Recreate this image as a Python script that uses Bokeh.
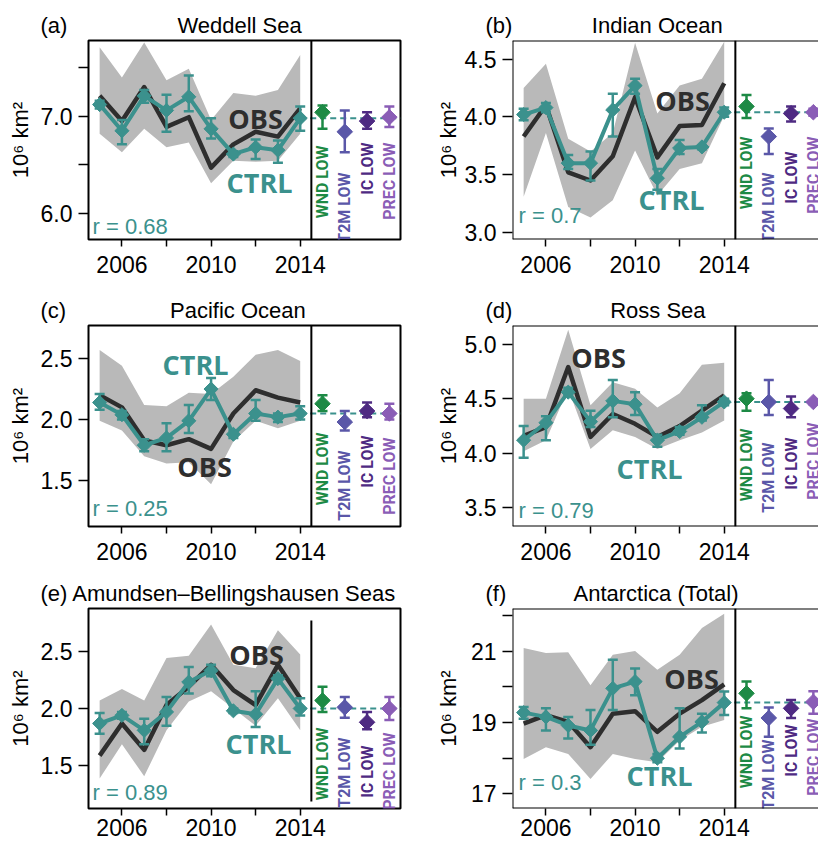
import numpy as np
from bokeh.plotting import figure
from bokeh.layouts import column, row
from bokeh.models import (Range1d, FixedTicker, Span, Label, ColumnDataSource, Title,
                          PrintfTickFormatter)
from bokeh.embed import file_html
from bokeh.resources import INLINE
from bokeh.core.properties import value

# ---------------- data ----------------
years = [2005, 2006, 2007, 2008, 2009, 2010, 2011, 2012, 2013, 2014]
year_ticks = [2006, 2008, 2010, 2012, 2014]
year_labels = ["2006", "", "2010", "", "2014"]
exp_names = ["WND LOW", "T2M LOW", "IC LOW", "PREC LOW"]
exp_x = [2015, 2016, 2017, 2018]

# (a) Weddell Sea
wed_obs = [7.21, 6.95, 7.30, 6.89, 6.99, 6.47, 6.71, 6.84, 6.79, 7.08]
wed_band_lo = [6.82, 6.63, 6.87, 6.68, 6.73, 6.31, 6.54, 6.53, 6.54, 6.82]
wed_band_hi = [7.71, 7.40, 7.76, 7.37, 7.49, 6.96, 7.24, 7.21, 7.27, 7.63]
wed_ctrl = [7.12, 6.85, 7.21, 7.06, 7.20, 6.87, 6.61, 6.68, 6.65, 6.98]
wed_ctrl_lo = [7.08, 6.71, 7.14, 6.84, 7.05, 6.77, 6.58, 6.56, 6.52, 6.85]
wed_ctrl_hi = [7.16, 6.96, 7.27, 7.22, 7.42, 6.98, 6.64, 6.76, 6.75, 7.10]
wed_exp = [7.04, 6.84, 6.95, 6.99]
wed_exp_lo = [6.87, 6.63, 6.87, 6.89]
wed_exp_hi = [7.11, 7.06, 7.04, 7.10]

# (b) Indian Ocean
ind_obs = [3.83, 4.10, 3.52, 3.45, 3.66, 4.17, 3.65, 3.92, 3.93, 4.29]
ind_band_lo = [3.31, 3.86, 3.22, 3.13, 3.28, 3.71, 3.32, 3.55, 3.60, 4.01]
ind_band_hi = [4.25, 4.46, 3.81, 3.70, 3.86, 4.64, 4.03, 4.27, 4.33, 4.65]
ind_ctrl = [4.02, 4.08, 3.60, 3.60, 4.06, 4.27, 3.47, 3.73, 3.74, 4.04]
ind_ctrl_lo = [3.97, 4.04, 3.55, 3.45, 3.83, 4.20, 3.37, 3.68, 3.72, 4.00]
ind_ctrl_hi = [4.07, 4.12, 3.67, 3.70, 4.20, 4.33, 3.55, 3.80, 3.75, 4.08]
ind_exp = [4.09, 3.83, 4.03, 4.04]
ind_exp_lo = [3.99, 3.68, 3.96, 4.01]
ind_exp_hi = [4.19, 3.90, 4.09, 4.07]

# (c) Pacific Ocean
pac_obs = [2.20, 2.10, 1.83, 1.79, 1.84, 1.76, 2.05, 2.24, 2.18, 2.14]
pac_band_lo = [1.99, 1.91, 1.70, 1.64, 1.65, 1.47, 1.82, 1.99, 1.93, 1.99]
pac_band_hi = [2.57, 2.44, 2.12, 2.11, 2.22, 2.21, 2.35, 2.53, 2.57, 2.48]
pac_ctrl = [2.14, 2.04, 1.79, 1.85, 1.99, 2.25, 1.88, 2.05, 2.02, 2.05]
pac_ctrl_lo = [2.08, 2.00, 1.74, 1.74, 1.89, 2.16, 1.85, 1.99, 1.98, 2.00]
pac_ctrl_hi = [2.21, 2.07, 1.84, 1.97, 2.12, 2.34, 1.91, 2.16, 2.05, 2.11]
pac_exp = [2.13, 1.98, 2.07, 2.05]
pac_exp_lo = [2.07, 1.91, 2.02, 2.00]
pac_exp_hi = [2.20, 2.07, 2.14, 2.13]

# (d) Ross Sea
ros_obs = [4.16, 4.24, 4.79, 4.15, 4.36, 4.27, 4.15, 4.25, 4.39, 4.53]
ros_band_lo = [4.02, 4.12, 4.59, 4.04, 4.21, 4.15, 4.04, 4.12, 4.19, 4.30]
ros_band_hi = [4.50, 4.50, 5.13, 4.44, 4.65, 4.59, 4.42, 4.55, 4.81, 4.83]
ros_ctrl = [4.12, 4.28, 4.56, 4.29, 4.48, 4.45, 4.12, 4.20, 4.33, 4.47]
ros_ctrl_lo = [3.96, 4.12, 4.53, 4.24, 4.33, 4.35, 4.06, 4.17, 4.30, 4.44]
ros_ctrl_hi = [4.25, 4.34, 4.60, 4.39, 4.67, 4.56, 4.17, 4.24, 4.44, 4.50]
ros_exp = [4.50, 4.47, 4.41, 4.47]
ros_exp_lo = [4.39, 4.35, 4.33, 4.45]
ros_exp_hi = [4.55, 4.67, 4.52, 4.48]

# (e) Amundsen-Bellingshausen Seas
abs_obs = [1.59, 1.87, 1.64, 2.03, 2.19, 2.38, 2.16, 2.03, 2.38, 2.09]
abs_band_lo = [1.39, 1.69, 1.41, 1.81, 2.06, 2.15, 2.00, 1.85, 2.09, 1.81]
abs_band_hi = [2.07, 2.17, 2.07, 2.44, 2.46, 2.73, 2.38, 2.35, 2.68, 2.47]
abs_ctrl = [1.87, 1.94, 1.81, 1.97, 2.23, 2.33, 1.98, 1.95, 2.26, 2.00]
abs_ctrl_lo = [1.78, 1.91, 1.69, 1.85, 2.13, 2.28, 1.96, 1.84, 2.22, 1.94]
abs_ctrl_hi = [1.96, 1.97, 1.91, 2.10, 2.36, 2.38, 2.00, 2.15, 2.29, 2.09]
abs_exp = [2.07, 2.01, 1.88, 2.00]
abs_exp_lo = [1.97, 1.92, 1.82, 1.90]
abs_exp_hi = [2.19, 2.10, 1.97, 2.10]

# (f) Antarctica (Total)
ant_obs = [18.97, 19.21, 19.02, 18.31, 19.25, 19.32, 18.74, 19.25, 19.63, 20.07]
ant_band_lo = [17.98, 18.31, 18.12, 17.42, 18.12, 17.98, 17.89, 18.50, 18.88, 19.07]
ant_band_hi = [21.09, 20.95, 20.97, 20.05, 20.90, 21.01, 20.48, 20.90, 21.65, 22.05]
ant_ctrl = [19.28, 19.16, 18.92, 18.78, 19.96, 20.15, 18.00, 18.60, 19.02, 19.56]
ant_ctrl_lo = [19.11, 18.78, 18.55, 18.38, 19.35, 19.77, 17.89, 18.27, 18.72, 19.21]
ant_ctrl_hi = [19.44, 19.40, 19.16, 19.35, 20.76, 20.52, 18.12, 19.40, 19.25, 19.87]
ant_exp = [19.82, 19.13, 19.40, 19.58]
ant_exp_lo = [19.40, 18.60, 19.13, 19.25]
ant_exp_hi = [20.15, 19.42, 19.63, 19.88]

corr = ["0.68", "0.7", "0.25", "0.79", "0.89", "0.3"]

# ---------------- style ----------------
TEAL = "#3b918d"
OBS_C = "#2e2e2e"
BAND = "#b9b9b9"
EXP_COLORS = ["#1d8a45", "#5a57a8", "#4e2a82", "#8a5db6"]
FONT = "Liberation Sans"
PPX = 312.0 / 14.0  # pixels per year
NB = "\u00a0"

panels = [
    dict(title="(a)" + NB * 18 + "Weddell Sea", obs=wed_obs, blo=wed_band_lo, bhi=wed_band_hi,
         ctrl=wed_ctrl, clo=wed_ctrl_lo, chi=wed_ctrl_hi, exp=wed_exp, elo=wed_exp_lo, ehi=wed_exp_hi,
         yr=(5.73, 7.78), yt=[6.0, 6.5, 7.0, 7.5], yo={6.5: "", 7.5: ""}, fmt="%.1f",
         obs_pos=(167, 78), ctrl_pos=(171, 142), r_pos=(4, 193), left=True,
         row=0, als=5, ttop=[105, 132, 102, 102]),
    dict(title="(b)" + NB * 13 + "Indian Ocean", obs=ind_obs, blo=ind_band_lo, bhi=ind_band_hi,
         ctrl=ind_ctrl, clo=ind_ctrl_lo, chi=ind_ctrl_hi, exp=ind_exp, elo=ind_exp_lo, ehi=ind_exp_hi,
         yr=(2.94, 4.66), yt=[3.0, 3.5, 4.0, 4.5], yo={}, fmt="%.1f",
         obs_pos=(170, 60), ctrl_pos=(159, 159), r_pos=(6, 182), left=False,
         row=0, als=1, ttop=[96, 132, 111, 96]),
    dict(title="(c)" + NB * 17 + "Pacific Ocean", obs=pac_obs, blo=pac_band_lo, bhi=pac_band_hi,
         ctrl=pac_ctrl, clo=pac_ctrl_lo, chi=pac_ctrl_hi, exp=pac_exp, elo=pac_exp_lo, ehi=pac_exp_hi,
         yr=(1.125, 2.77), yt=[1.5, 2.0, 2.5], yo={}, fmt="%.1f",
         obs_pos=(116, 141), ctrl_pos=(107, 39), r_pos=(4, 190), left=True,
         row=1, als=5, ttop=[107, 125, 110, 112]),
    dict(title="(d)" + NB * 16 + "Ross Sea", obs=ros_obs, blo=ros_band_lo, bhi=ros_band_hi,
         ctrl=ros_ctrl, clo=ros_ctrl_lo, chi=ros_ctrl_hi, exp=ros_exp, elo=ros_exp_lo, ehi=ros_exp_hi,
         yr=(3.33, 5.17), yt=[3.5, 4.0, 4.5, 5.0], yo={}, fmt="%.1f",
         obs_pos=(86, 32), ctrl_pos=(137, 143), r_pos=(6, 192), left=False,
         row=1, als=1, ttop=[103, 117, 112, 97]),
    dict(title="(e) Amundsen\u2013Bellingshausen Seas", obs=abs_obs, blo=abs_band_lo, bhi=abs_band_hi,
         ctrl=abs_ctrl, clo=abs_ctrl_lo, chi=abs_ctrl_hi, exp=abs_exp, elo=abs_exp_lo, ehi=abs_exp_hi,
         yr=(1.13, 2.87), yt=[1.5, 2.0, 2.5], yo={}, fmt="%.1f",
         obs_pos=(168, 46), ctrl_pos=(170, 135), r_pos=(4, 191), left=True,
         row=2, als=5, short_divider=True, ttop=[119, 129, 137, 124]),
    dict(title="(f)" + NB * 11 + "Antarctica (Total)", obs=ant_obs, blo=ant_band_lo, bhi=ant_band_hi,
         ctrl=ant_ctrl, clo=ant_ctrl_lo, chi=ant_ctrl_hi, exp=ant_exp, elo=ant_exp_lo, ehi=ant_exp_hi,
         yr=(16.59, 22.2), yt=[17, 18, 19, 20, 21, 22], yo={18: "", 20: "", 22: ""}, fmt="%d",
         obs_pos=(179, 70), ctrl_pos=(147, 167), r_pos=(6, 181), left=False,
         row=2, als=7, ttop=[107, 131, 116, 110]),
]

# row geometry: (height, border_top, border_bottom, x-label standoff)
ROWS = [(285, 40, 46, 9), (285, 40, 44, 9), (273, 38, 35, 3)]


def make_panel(d, r_text):
    left = d["left"]
    H, bt, bb, xstand = ROWS[d["row"]]
    fw = 312 if left else 306
    W = 424 if left else 394
    mbl = 88
    mbr = W - mbl - fw
    fh = H - bt - bb
    x0 = 2004.5
    x1 = x0 + fw / PPX
    y0, y1 = d["yr"]
    dx = (x1 - x0) / fw
    dy = (y1 - y0) / fh

    p = figure(width=W, height=H, x_range=Range1d(x0, x1), y_range=Range1d(y0, y1),
               output_backend="svg", toolbar_location=None,
               min_border_left=mbl, min_border_right=mbr,
               min_border_top=bt, min_border_bottom=bb)
    p.xgrid.visible = False
    p.ygrid.visible = False
    p.background_fill_color = "white"
    p.border_fill_color = "white"

    p.title = Title(text=d["title"], align="left", offset=-(48 if left else 27),
                    text_font=FONT, text_font_size="22px", text_font_style="normal",
                    text_color="black", standoff=6)

    if left:
        p.outline_line_color = "black"
        p.outline_line_width = 2
    else:
        p.outline_line_color = None
        p.add_layout(Span(location=x0, dimension="height", line_color="black", line_width=2))
        p.add_layout(Span(location=y0, dimension="width", line_color="black", line_width=2))
        p.add_layout(Span(location=y1, dimension="width", line_color="black", line_width=2))

    # axes
    for ax in (p.xaxis[0], p.yaxis[0]):
        ax.axis_line_color = None
        ax.major_tick_line_color = "black"
        ax.major_tick_line_width = 1.5
        ax.major_tick_in = 0
        ax.minor_tick_line_color = None
        ax.major_label_text_font = FONT
        ax.major_label_text_font_size = "23px"
        ax.major_label_text_color = "black"
    p.xaxis.ticker = FixedTicker(ticks=year_ticks)
    p.xaxis.major_label_overrides = {t: l for t, l in zip(year_ticks, year_labels)}
    p.xaxis.major_tick_out = 7
    p.xaxis.major_label_standoff = xstand
    p.yaxis.ticker = FixedTicker(ticks=d["yt"])
    p.yaxis.formatter = PrintfTickFormatter(format=d["fmt"])
    if d["yo"]:
        p.yaxis.major_label_overrides = d["yo"]
    p.yaxis.major_tick_out = 10
    p.yaxis.major_label_standoff = 6
    p.yaxis.axis_label = "10\u2076 km\u00b2"
    p.yaxis.axis_label_text_font = FONT
    p.yaxis.axis_label_text_font_size = "22px"
    p.yaxis.axis_label_text_font_style = "normal"
    p.yaxis.axis_label_text_color = "black"
    p.yaxis.axis_label_standoff = d["als"]

    # band, obs, ctrl
    p.varea(x=years, y1=d["blo"], y2=d["bhi"], fill_color=BAND, fill_alpha=1.0)
    p.line(years, d["obs"], line_color=OBS_C, line_width=4.5, line_join="round")
    p.line([years[-1], x1], [d["ctrl"][-1], d["ctrl"][-1]], line_color=TEAL,
           line_width=2, line_dash="6 4")
    p.line(years, d["ctrl"], line_color=TEAL, line_width=4, line_join="round")
    p.segment(x0=years, y0=d["clo"], x1=years, y1=d["chi"], line_color=TEAL, line_width=2.5)
    p.scatter(years, d["chi"], marker="dash", size=10, line_color=TEAL, line_width=2.5)
    p.scatter(years, d["clo"], marker="dash", size=10, line_color=TEAL, line_width=2.5)
    p.scatter(years, d["ctrl"], marker="square", angle=np.pi / 4, size=10,
              fill_color=TEAL, line_color=TEAL)

    # experiments
    src = ColumnDataSource(dict(x=exp_x, y=d["exp"], lo=d["elo"], hi=d["ehi"], c=EXP_COLORS,
                                name=exp_names,
                                ty=[y1 - t * dy for t in d["ttop"]]))
    p.segment(x0="x", y0="lo", x1="x", y1="hi", line_color="c", line_width=2.5, source=src)
    p.scatter("x", "hi", marker="dash", size=10, line_color="c", line_width=2.5, source=src)
    p.scatter("x", "lo", marker="dash", size=10, line_color="c", line_width=2.5, source=src)
    p.scatter("x", "y", marker="square", angle=np.pi / 4, size=11, fill_color="c",
              line_color="c", source=src)
    p.text(x="x", y="ty", text="name", angle=np.pi / 2, text_align="right",
           text_baseline="middle", text_color="c", text_font=value("Roboto"),
           text_font_style="bold", text_font_size="16px", source=src)

    # divider
    if d.get("short_divider"):
        p.segment(x0=[2014.5], y0=[y1 - 12 * dy], x1=[2014.5], y1=[y0 + 7 * dy],
                  line_color="black", line_width=2)
    else:
        p.add_layout(Span(location=2014.5, dimension="height", line_color="black", line_width=2))

    # texts inside frame
    p.add_layout(Label(x=x0 + d["obs_pos"][0] * dx, y=y1 - d["obs_pos"][1] * dy, text="OBS",
                       text_font="Open Sans", text_font_style="bold", text_font_size="27px",
                       text_align="center", text_baseline="middle", text_color=OBS_C))
    p.add_layout(Label(x=x0 + d["ctrl_pos"][0] * dx, y=y1 - d["ctrl_pos"][1] * dy, text="CTRL",
                       text_font="Open Sans", text_font_style="bold", text_font_size="27px",
                       text_align="center", text_baseline="middle", text_color=TEAL))
    p.add_layout(Label(x=x0 + d["r_pos"][0] * dx, y=y1 - (d["r_pos"][1] + 5) * dy,
                       text="r = " + r_text, text_font=FONT, text_font_size="22px",
                       text_align="left", text_baseline="bottom", text_color=TEAL))
    return p


figs = [make_panel(d, r) for d, r in zip(panels, corr)]
layout = column(row(figs[0], figs[1]), row(figs[2], figs[3]), row(figs[4], figs[5]))

open("out.html", "w").write(file_html(layout, INLINE))
